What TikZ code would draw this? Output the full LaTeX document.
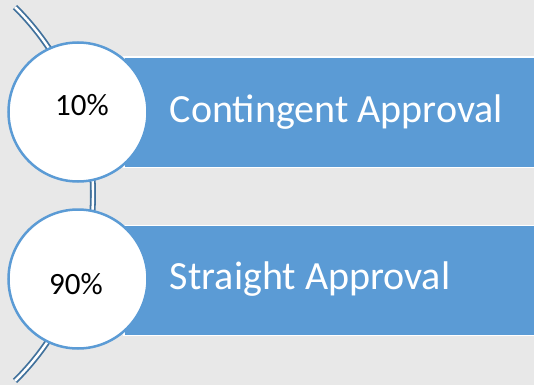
\documentclass[tikz,border=0pt]{standalone}
\usepackage{fontspec}
\setmainfont{Carlito}
\usepackage{tikz}
\usetikzlibrary{positioning}
\definecolor{barcolor}{RGB}{91,155,213}
\definecolor{railcolor}{RGB}{65,113,156}
\definecolor{bgcolor}{RGB}{232,232,232}

\begin{document}
\begin{tikzpicture}[
    x=1pt, y=-1pt,
    bar/.style={rectangle, draw=white, line width=1.5pt, fill=barcolor, anchor=north west,
                minimum width=430pt, minimum height=110pt, inner sep=0pt},
    badge/.style={circle, draw=barcolor, line width=2.5pt, fill=white,
                  minimum size=139pt, inner sep=0pt},
    pct/.style={font=\fontsize{31}{31}\selectfont, text=black},
    bartext/.style={font=\fontsize{40}{40}\selectfont, text=white, anchor=west, inner sep=0pt},
    rail/.style={draw=railcolor, line width=1.8pt, double=white, double distance=2.4pt}
]
\fill[bgcolor] (0,0) rectangle (534,385);
\useasboundingbox (0,0) rectangle (534,385);
\clip (0,0) rectangle (534,385);

% curved rail behind the badges
\coordinate (hub) at (-170,194);
\draw[rail] (hub) ++(-45.3:263) arc[start angle=-45.3, end angle=45.3, radius=263];

\node[bar] (b1) at (123,56.5) {};
\node[bar] (b2) at (123,224.5) {};

\node[badge] (c1) at (78,112) {};
\node[badge] (c2) at (78,279) {};

\node[pct] (p1) at (82,105) {10\%};
\node[pct] (p2) at (76,284) {90\%};

\node[bartext, right=21pt of c1.east] (t1) {Contingent Approval};
\node[bartext, right=21pt of c2.east] (t2) {Straight Approval};
\end{tikzpicture}
\end{document}
